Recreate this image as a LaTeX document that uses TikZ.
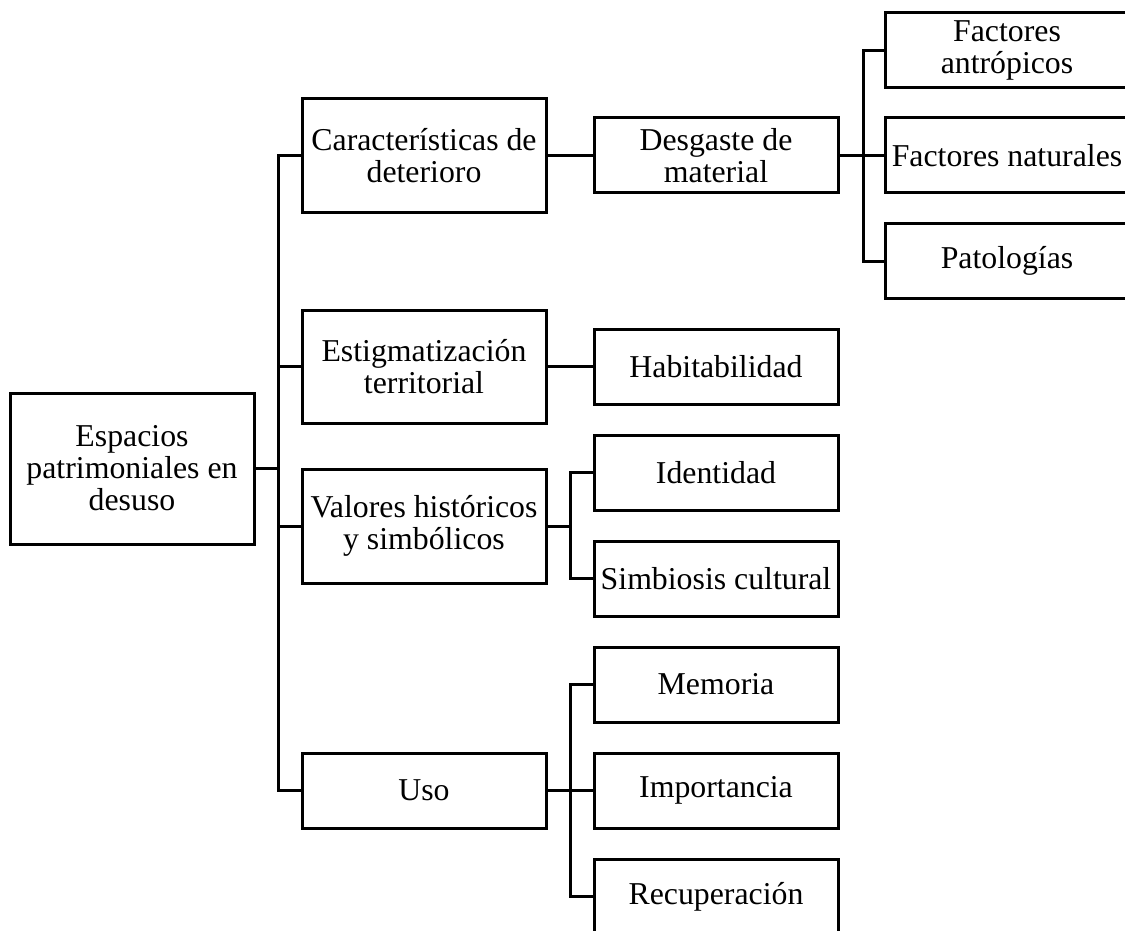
\documentclass[tikz,border=0pt]{standalone}
\usepackage{fontspec}
\setmainfont{Liberation Serif}
\begin{document}
\begin{tikzpicture}[x=1pt,y=-1pt,
  box/.style={draw, line width=3pt, minimum width=244pt, minimum height=75pt, align=center, inner sep=0pt, font=\fontsize{31.8}{32}\selectfont},
  tall/.style={box, minimum height=113pt},
  conn/.style={line width=3pt}]
\clip (0,0) rectangle (1125,931);
\useasboundingbox (0,0) rectangle (1125,931);
% level 0
\node[box, minimum height=151pt] (root) at (132,468.5) {Espacios\\patrimoniales en\\desuso};
% level 1
\node[tall] (car) at (424,155.5) {Características de\\deterioro};
\node[tall] (est) at (424,366.5) {Estigmatización\\territorial};
\node[tall, minimum height=114pt] (val) at (424,526) {Valores históricos\\y simbólicos};
\node[box] (uso) at (424,790.5) {Uso};
% level 2
\node[box] (des) at (716,155.5) {Desgaste de\\material};
\node[box] (hab) at (716,366.5) {Habitabilidad};
\node[box] (ide) at (716,472.5) {Identidad};
\node[box] (sim) at (716,578.5) {Simbiosis cultural};
\node[box] (mem) at (716,684.5) {Memoria};
\node[box] (imp) at (716,790.5) {Importancia};
\node[box] (rec) at (716,896.5) {Recuperación};
% level 3
\node[box] (fa) at (1007,50.5) {Factores\\antrópicos};
\node[box] (fn) at (1007,155.5) {Factores naturales};
\node[box] (pat) at (1007,261) {Patologías};
% buses
\coordinate (b1) at (278,468.5);
\coordinate (b2) at (570,526);
\coordinate (b3) at (570,790.5);
\coordinate (b4) at (863,155.5);
% connectors
\draw[conn] (root.east) -- (b1);
\draw[conn] (b1) |- (car.west);
\draw[conn] (b1) |- (est.west);
\draw[conn] (b1) |- (val.west);
\draw[conn] (b1) |- (uso.west);
\draw[conn] (car.east) -- (des.west);
\draw[conn] (est.east) -- (hab.west);
\draw[conn] (val.east) -- (b2);
\draw[conn] (b2) |- (ide.west);
\draw[conn] (b2) |- (sim.west);
\draw[conn] (uso.east) -- (imp.west);
\draw[conn] (b3) |- (mem.west);
\draw[conn] (b3) |- (rec.west);
\draw[conn] (des.east) -- (fn.west);
\draw[conn] (b4) |- (fa.west);
\draw[conn] (b4) |- (pat.west);
\end{tikzpicture}
\end{document}
